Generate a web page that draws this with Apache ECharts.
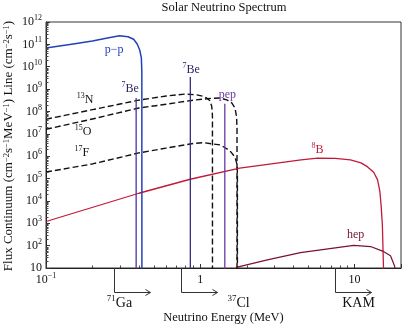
<!DOCTYPE html>
<html><head><meta charset="utf-8">
<script src="https://cdn.jsdelivr.net/npm/echarts@6/dist/echarts.min.js"></script>
<style>html,body{margin:0;padding:0;background:#fff}#c{width:405px;height:329px}</style>
</head><body><div id="c"></div>
<script>
// ---- data (energy in MeV, flux per MeV or line flux) ----
const ppEnergy  = [0.1, 0.15, 0.2, 0.25, 0.3, 0.34, 0.37, 0.39, 0.405, 0.415, 0.418, 0.4185];
const ppFlux    = [6.9e10, 1.05e11, 1.42e11, 1.94e11, 2.4e11, 2.2e11, 1.7e11, 1.04e11, 5.6e10, 2.5e10, 6e9, 1];

const n13Energy = [0.1, 0.2, 0.4, 0.6, 0.8, 0.95, 1.05, 1.1, 1.15, 1.17, 1.185, 1.195, 1.199, 1.1995];
const n13Flux   = [4.5e7, 1.2e8, 3.2e8, 4.9e8, 6.0e8, 5.5e8, 4.7e8, 4.0e8, 3.1e8, 2.6e8, 1.76e8, 1.05e8, 5.6e7, 1];

const o15Energy = [0.1, 0.2, 0.4, 0.6, 0.9, 1.2, 1.35, 1.5, 1.6, 1.68, 1.72, 1.73, 1.7305];
const o15Flux   = [1.6e7, 4.6e7, 1.43e8, 2.1e8, 3.2e8, 3.9e8, 4.0e8, 3.2e8, 2.4e8, 1.4e8, 5.6e7, 1.8e7, 1];

const f17Energy = [0.1, 0.2, 0.4, 0.6, 0.9, 1.05, 1.35, 1.55, 1.68, 1.735, 1.74, 1.7405];
const f17Flux   = [1.95e5, 4.5e5, 1.4e6, 2.3e6, 3.7e6, 4.0e6, 3.2e6, 1.8e6, 9.1e5, 4e5, 1.45e5, 1];

const b8Energy  = [0.1, 0.4, 0.86, 1.8, 4.5, 5.75, 7.5, 9.4, 11.0, 12.1, 13.3, 14.1, 14.6, 14.9, 15.15, 15.4, 15.5];
const b8Flux    = [1.2e3, 2.2e4, 9.3e4, 2.9e5, 6.8e5, 8.1e5, 7.9e5, 6.8e5, 5.0e5, 3.4e5, 1.9e5, 8.7e4, 2.6e4, 5e3, 8e2, 10, 1];

const hepEnergy = [1.6, 1.74, 2.72, 4.46, 7.3, 9.85, 12.7, 15.2, 17.1, 18.2, 18.8];
const hepFlux   = [7, 11, 23, 49, 78, 102, 91, 57, 35, 12, 1];

const lineNames  = ['7Be 0.384', '7Be 0.862', 'pep'];
const lineEnergy = [0.384, 0.862, 1.442];
const lineFlux   = [4.0e8, 3.5e9, 2.2e8];

const curveLabels      = ['p−p', '7Be', '7Be', 'pep', '13N', '15O', '17F', '8B', 'hep'];
const curveLabelEnergy = [0.276, 0.351, 0.874, 1.50, 0.179, 0.174, 0.171, 5.75, 10.15];
const curveLabelFlux   = [5.6e10, 1.0e9, 7.2e9, 5.5e8, 3.2e8, 1.2e7, 1.4e6, 1.9e6, 299];

const detectorNames  = ['71Ga', '37Cl', 'KAM'];
const detectorEnergy = [0.275, 0.745, 7.45];

const xTickExponents = [-1, 0, 1];
const yTickExponents = [1, 2, 3, 4, 5, 6, 7, 8, 9, 10, 11, 12];
const minorMultipliers = [2, 3, 4, 5, 6, 7, 8, 9];
const xDecades = [0.1, 1, 10];
const yDecades = [1e1, 1e2, 1e3, 1e4, 1e5, 1e6, 1e7, 1e8, 1e9, 1e10, 1e11];

// ---- config ----
const X_MIN = 0.1, X_MAX = 20, Y_MIN = 10, Y_MAX = 1e12;
const FONT = '"Liberation Serif","Times New Roman",serif';
const labelColors = ['#2341b8', '#2e2466', '#2e2466', '#6b3a9e', '#111', '#111', '#111', '#c21a36', '#7a1232'];
const detectorLabelDx = [5, 57, 23];

const xMinorTicks = xDecades.flatMap(d => minorMultipliers.map(m => m * d)).filter(v => v < X_MAX);
const yMinorTicks = yDecades.flatMap(d => minorMultipliers.map(m => m * d));

const pairs = (E, F) => E.map((e, i) => [e, F[i]]);
const richSup = {
  b: {fontFamily: FONT, fontSize: 12, lineHeight: 16},
  s: {fontFamily: FONT, fontSize: 8, lineHeight: 8, verticalAlign: 'top'}
};
function supName(name) {
  const m = name.match(/^(\d+)(.*)$/);
  return m ? '{s|' + m[1] + '}{b|' + m[2] + '}' : '{b|' + name + '}';
}
function powLabel(v, exps, plainMap) {
  const l = Math.log10(v), e = Math.round(l);
  if (Math.abs(l - e) > 1e-6 || exps.indexOf(e) < 0) return '';
  if (plainMap[e] !== undefined) return '{b|' + plainMap[e] + '}';
  return '{b|10}{s|' + String(e).replace('-', '−') + '}';
}

const lineSeries = (name, data, color, width, type) => ({
  name, type: 'line', data, symbol: 'none', showSymbol: false, clip: true, silent: true,
  lineStyle: {color, width, type: type || 'solid', join: 'round'}, z: 3
});

const chart = echarts.init(document.getElementById('c'), null, {renderer: 'canvas'});
chart.setOption({
  animation: false,
  backgroundColor: '#fff',
  grid: {left: 46, right: 4, top: 22, bottom: 61, show: true, borderColor: '#333', borderWidth: 1},
  xAxis: {
    type: 'log', logBase: 10, min: X_MIN, max: X_MAX,
    name: 'Neutrino Energy (MeV)', nameLocation: 'middle', nameGap: 43,
    nameTextStyle: {fontFamily: FONT, fontSize: 12.5, color: '#111'},
    axisLine: {lineStyle: {color: '#222', width: 1}},
    axisTick: {inside: true, length: 4, lineStyle: {color: '#333'}},
    splitLine: {show: false},
    axisLabel: {margin: 4, color: '#111', fontFamily: FONT, fontSize: 12, rich: richSup,
      formatter: v => powLabel(v, xTickExponents, {0: '1', 1: '10'})}
  },
  yAxis: {
    type: 'log', logBase: 10, min: Y_MIN, max: Y_MAX, interval: 1, splitNumber: 11,
    axisLine: {lineStyle: {color: '#222', width: 1}},
    axisTick: {inside: true, length: 4, lineStyle: {color: '#333'}},
    splitLine: {show: false},
    axisLabel: {margin: 4, color: '#111', fontFamily: FONT, fontSize: 12, rich: richSup,
      formatter: v => powLabel(v, yTickExponents, {1: '10'})}
  },
  graphic: [
    {type: 'text', x: 224, y: 8, style: {text: 'Solar Neutrino Spectrum', font: '12.5px ' + FONT, fill: '#111', align: 'center', verticalAlign: 'middle'}},
    {type: 'text', x: 9, y: 146, rotation: Math.PI / 2,
      style: {text: 'Flux Continuum (cm{s|−2}s{s|−1}MeV{s|−1}) Line (cm{s|−2}s{s|−1})',
        font: '13px ' + FONT, fill: '#111', align: 'center', verticalAlign: 'middle',
        rich: {s: {fontFamily: FONT, fontSize: 8.5, lineHeight: 8, verticalAlign: 'top'}}}}
  ],
  series: [
    lineSeries('17F', pairs(f17Energy, f17Flux), '#111', 1.4, [6, 3]),
    lineSeries('15O', pairs(o15Energy, o15Flux), '#111', 1.4, [6, 3]),
    lineSeries('13N', pairs(n13Energy, n13Flux), '#111', 1.4, [6, 3]),
    lineSeries('8B', pairs(b8Energy, b8Flux), '#c21a36', 1.3),
    lineSeries('hep', pairs(hepEnergy, hepFlux), '#7a1232', 1.2),
    lineSeries(lineNames[0], [[lineEnergy[0], lineFlux[0]], [lineEnergy[0], 1]], '#4a3596', 1.3),
    lineSeries(lineNames[1], [[lineEnergy[1], lineFlux[1]], [lineEnergy[1], 1]], '#3a2d80', 1.3),
    lineSeries(lineNames[2], [[lineEnergy[2], lineFlux[2]], [lineEnergy[2], 1]], '#6b3a9e', 1.3),
    lineSeries('pp', pairs(ppEnergy, ppFlux), '#2341b8', 1.5),
    {
      type: 'custom', coordinateSystem: 'cartesian2d', silent: true, z: 5,
      data: curveLabelEnergy.map((e, i) => [e, curveLabelFlux[i], i]),
      renderItem: (params, api) => {
        const i = api.value(2), p = api.coord([api.value(0), api.value(1)]);
        return {type: 'text', x: p[0], y: p[1], style: {text: supName(curveLabels[i]), rich: {
          b: {fontFamily: FONT, fontSize: 12, lineHeight: 16, fill: labelColors[i]},
          s: {fontFamily: FONT, fontSize: 8, lineHeight: 8, verticalAlign: 'top', fill: labelColors[i]}},
          fill: labelColors[i], align: 'center', verticalAlign: 'middle'}};
      }
    },
    {
      type: 'custom', coordinateSystem: 'cartesian2d', silent: true, z: 4,
      data: xMinorTicks.map(v => [v, Y_MIN]),
      renderItem: (params, api) => {
        const p = api.coord([api.value(0), api.value(1)]);
        const x = Math.round(p[0]) + 0.5;
        return {type: 'line', shape: {x1: x, y1: p[1], x2: x, y2: p[1] - 2.5}, style: {stroke: '#444', lineWidth: 1}};
      }
    },
    {
      type: 'custom', coordinateSystem: 'cartesian2d', silent: true, z: 4,
      data: yMinorTicks.map(v => [X_MIN, v]),
      renderItem: (params, api) => {
        const p = api.coord([api.value(0), api.value(1)]);
        const y = Math.round(p[1]) + 0.5;
        return {type: 'line', shape: {x1: p[0], y1: y, x2: p[0] + 2.5, y2: y}, style: {stroke: '#444', lineWidth: 1}};
      }
    },
    {
      type: 'custom', coordinateSystem: 'cartesian2d', silent: true, z: 4, clip: false,
      data: detectorEnergy.map((e, i) => [e, Y_MIN, i]),
      renderItem: (params, api) => {
        const i = api.value(2), p = api.coord([api.value(0), api.value(1)]);
        const x = Math.round(p[0]) + 0.5, y0 = p[1], yb = Math.round(y0 + 24) + 0.5, xe = x + 36;
        return {type: 'group', children: [
          {type: 'line', shape: {x1: x, y1: y0, x2: x, y2: yb}, style: {stroke: '#333', lineWidth: 1}},
          {type: 'line', shape: {x1: x, y1: yb, x2: xe, y2: yb}, style: {stroke: '#333', lineWidth: 1}},
          {type: 'polyline', shape: {points: [[xe - 5, yb - 3], [xe, yb], [xe - 5, yb + 3]]}, style: {stroke: '#333', fill: null, lineWidth: 1}},
          {type: 'text', x: x + detectorLabelDx[i], y: yb + 11, style: {text: supName(detectorNames[i]), rich: {
            b: {fontFamily: FONT, fontSize: 14, lineHeight: 18, fill: '#111'},
            s: {fontFamily: FONT, fontSize: 9, lineHeight: 9, verticalAlign: 'top', fill: '#111'}},
            fill: '#111', align: 'center', verticalAlign: 'middle'}}
        ]};
      }
    }
  ]
});
</script></body></html>
